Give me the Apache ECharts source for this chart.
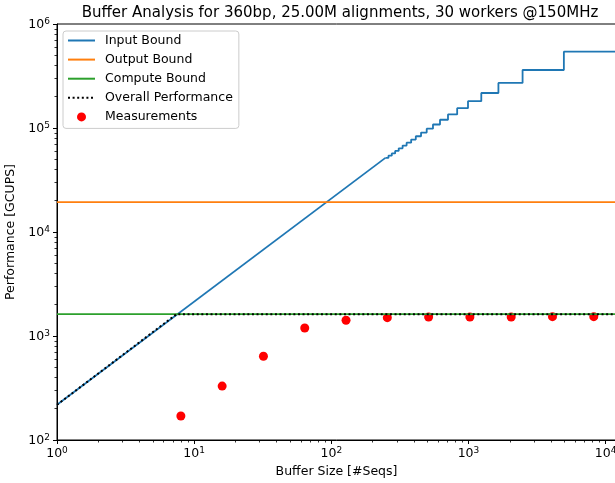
<!DOCTYPE html>
<html>
<head>
<meta charset="utf-8">
<script src="https://cdn.jsdelivr.net/npm/echarts@6.0.0/dist/echarts.min.js"></script>
<style>
  html, body { margin: 0; padding: 0; background: #fff; }
  #chart { width: 615px; height: 483px; }
</style>
</head>
<body>
<div id="chart"></div>
<script>
// values
const xMin = 1;
const xMax = 11900;

// input bound: straight part, then the staircase (start of each step, level)
const inputLineX = [1, 248];
const inputLineY = [218, 51600];
const inputStairX = [248, 261, 276, 292, 310, 331, 354, 382, 413, 451, 496, 551, 620, 709, 827, 992, 1240, 1653, 2480, 4960, 11900];
const inputStairY = [51600, 54200, 57000, 60200, 63700, 67700, 72200, 77400, 83300, 90300, 98500, 108000, 120000, 135000, 155000, 181000, 217000, 271000, 361000, 542000, 542000];

const outputBound = 19400;
const computeBound = 1620;

const overallX = [1, 7.43, 11900];
const overallY = [218, 1620, 1620];

const bufferSizes = [8, 16, 32, 64, 128, 256, 512, 1024, 2048, 4096, 8192];
const measured = [170, 330, 638, 1193, 1416, 1500, 1523, 1523, 1523, 1534, 1534];

const FONT = 'DejaVu Sans';
const zip = (xs, ys) => xs.map((x, i) => [x, ys[i]]);

const powLabel = v => {
  const e = Math.round(Math.log10(v));
  if (Math.abs(Math.pow(10, e) - v) / v > 1e-6) return '';
  return '{b|10}{s|' + e + '}';
};
const richSup = {
  b: { fontFamily: FONT, fontSize: 12.5, color: '#000', lineHeight: 14, padding: [4, 0, 0, 0], verticalAlign: 'bottom' },
  s: { fontFamily: FONT, fontSize: 9, color: '#000', lineHeight: 10, verticalAlign: 'top' }
};

const logAxis = (extra) => Object.assign({
  type: 'log',
  logBase: 10,
  axisLine: { show: true, lineStyle: { color: '#000', width: 1 } },
  axisTick: { show: true, length: 4, lineStyle: { color: '#000', width: 1 } },
  minorTick: { show: true, splitNumber: 9, length: 2.5, lineStyle: { color: '#000', width: 0.8 } },
  splitLine: { show: false },
  minorSplitLine: { show: false },
  axisLabel: { formatter: powLabel, rich: richSup, color: '#000' },
  nameTextStyle: { fontFamily: FONT, fontSize: 12.5, color: '#000' },
  nameLocation: 'middle'
}, extra);

const blue = '#1f77b4';
const noMarker = { opacity: 0 };

const option = {
  animation: false,
  title: {
    text: 'Buffer Analysis for 360bp, 25.00M alignments, 30 workers @150MHz',
    left: 335,
    textAlign: 'center',
    top: 1,
    textStyle: { fontFamily: FONT, fontSize: 15, fontWeight: 'normal', color: '#000' }
  },
  legend: {
    orient: 'vertical',
    left: 63,
    top: 31,
    padding: [3, 6, 5, 4],
    itemGap: 6.1,
    itemWidth: 27,
    itemHeight: 9,
    backgroundColor: 'rgba(255,255,255,0.8)',
    borderColor: '#cccccc',
    borderWidth: 1,
    borderRadius: 3,
    textStyle: { fontFamily: FONT, fontSize: 12.5, color: '#000', padding: [0, 0, 0, 5] },
    data: [
      { name: 'Input Bound', itemStyle: noMarker },
      { name: 'Output Bound', itemStyle: noMarker },
      { name: 'Compute Bound', itemStyle: noMarker },
      { name: 'Overall Performance', itemStyle: noMarker },
      { name: 'Measurements', icon: 'circle', itemStyle: { color: '#ff0000', opacity: 1 } }
    ]
  },
  grid: {
    left: 57,
    right: -1,
    top: 24,
    bottom: 43,
    outerBoundsMode: 'none',
    containLabel: false,
    show: true,
    borderColor: '#000',
    borderWidth: 1,
    backgroundColor: 'transparent'
  },
  xAxis: logAxis({
    min: xMin,
    max: xMax,
    name: 'Buffer Size [#Seqs]',
    nameGap: 22,
    axisLabel: { formatter: powLabel, rich: richSup, color: '#000', margin: 6, showMaxLabel: false }
  }),
  yAxis: logAxis({
    min: 100,
    max: 1000000,
    name: 'Performance [GCUPS]',
    nameGap: 35,
    axisLabel: { formatter: powLabel, rich: richSup, color: '#000', margin: 7 }
  }),
  series: [
    {
      name: 'Input Bound', type: 'line', symbol: 'none', color: blue,
      lineStyle: { width: 1.8, color: blue },
      data: zip(inputLineX, inputLineY)
    },
    {
      name: 'Input Bound', type: 'line', symbol: 'none', color: blue, step: 'end',
      lineStyle: { width: 1.8, color: blue },
      data: zip(inputStairX, inputStairY)
    },
    {
      name: 'Output Bound', type: 'line', symbol: 'none', color: '#ff7f0e',
      lineStyle: { width: 1.8, color: '#ff7f0e' },
      data: [[xMin, outputBound], [xMax, outputBound]]
    },
    {
      name: 'Compute Bound', type: 'line', symbol: 'none', color: '#2ca02c',
      lineStyle: { width: 1.8, color: '#2ca02c' },
      data: [[xMin, computeBound], [xMax, computeBound]]
    },
    {
      name: 'Overall Performance', type: 'line', symbol: 'none', color: '#000',
      lineStyle: { width: 2, color: '#000', type: [2, 2.6], cap: 'butt' },
      data: zip(overallX, overallY)
    },
    {
      name: 'Measurements', type: 'scatter', symbol: 'circle', symbolSize: 9,
      color: '#ff0000', itemStyle: { color: '#ff0000', opacity: 1 },
      data: zip(bufferSizes, measured)
    }
  ]
};

const myChart = echarts.init(document.getElementById('chart'), null, { renderer: 'canvas' });
myChart.setOption(option);
</script>
</body>
</html>
